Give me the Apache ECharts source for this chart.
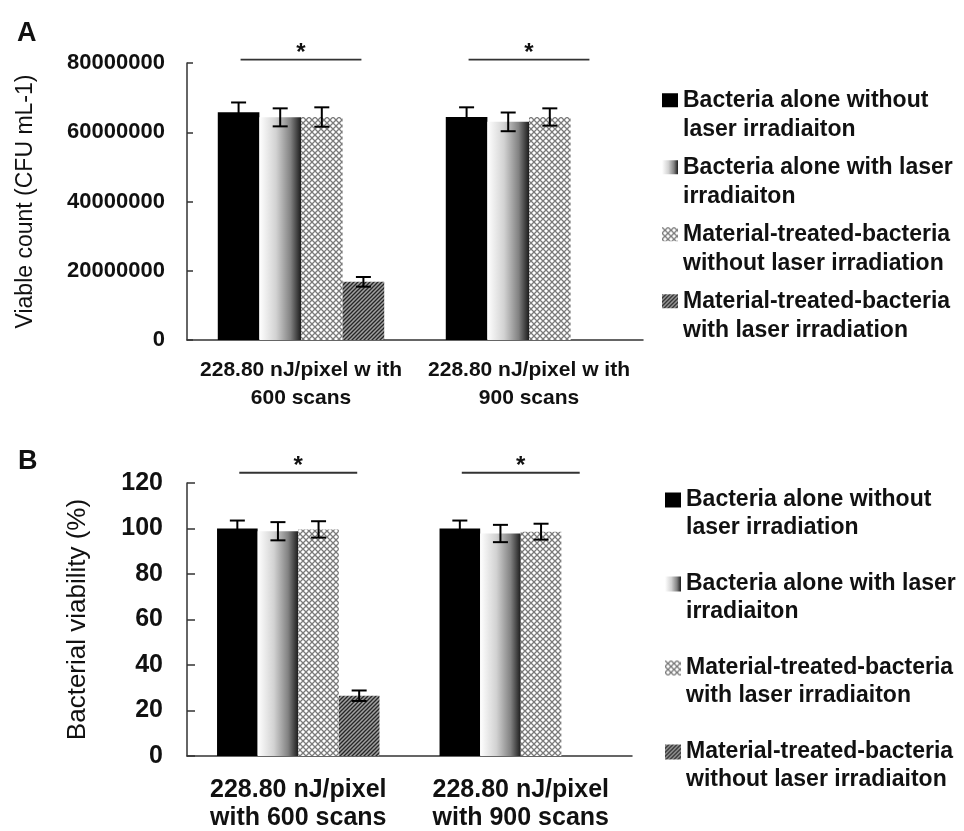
<!DOCTYPE html>
<html><head><meta charset="utf-8">
<script src="https://cdn.jsdelivr.net/npm/echarts@6/dist/echarts.min.js"></script>
<style>html,body{margin:0;padding:0;background:#fff}#c{width:964px;height:831px}</style>
</head><body><div id="c"></div>
<script>
// ---------- data ----------
const catsA = ['228.80 nJ/pixel w ith\n600 scans', '228.80 nJ/pixel w ith\n900 scans'];
const catsB = ['228.80 nJ/pixel\nwith 600 scans', '228.80 nJ/pixel\nwith 900 scans'];
const namesA = ['Bacteria alone without\nlaser irradiaiton', 'Bacteria alone with laser\nirradiaiton', 'Material-treated-bacteria\nwithout laser irradiation', 'Material-treated-bacteria\nwith laser irradiation'];
const namesB = ['Bacteria alone without\nlaser irradiation', 'Bacteria alone with laser\nirradiaiton', 'Material-treated-bacteria\nwith laser irradiaiton', 'Material-treated-bacteria\nwithout laser irradiaiton'];
const valsA = [[65800000, 64400000], [64300000, 63000000], [64400000, 64400000], [16800000, null]];
const errA  = [[2800000, 2800000], [2600000, 2700000], [2800000, 2500000], [1400000, null]];
const valsB = [[100, 100], [98.8, 97.8], [99.6, 98.6], [26.5, null]];
const errB  = [[3.5, 3.5], [4.0, 3.8], [3.6, 3.5], [2.3, null]];
const ticksA = [0, 20000000, 40000000, 60000000, 80000000];
const ticksB = [0, 20, 40, 60, 80, 100, 120];
const sigA = [81000000, 81000000];
const sigB = [124.5, 124.5];
const yNameA = 'Viable count (CFU mL-1)';
const yNameB = 'Bacterial viability (%)';

// ---------- fills ----------
function crossPattern() {
  const c = document.createElement('canvas'); c.width = 6; c.height = 6;
  const g = c.getContext('2d');
  g.fillStyle = '#ffffff'; g.fillRect(0, 0, 6, 6);
  g.strokeStyle = '#7a7a7a'; g.lineWidth = 1.3;
  g.beginPath(); g.moveTo(0, 0); g.lineTo(6, 6); g.moveTo(6, 0); g.lineTo(0, 6); g.stroke();
  return { image: c, repeat: 'repeat' };
}
function hatchPattern() {
  const c = document.createElement('canvas'); c.width = 4; c.height = 4;
  const g = c.getContext('2d');
  g.fillStyle = '#a0a0a0'; g.fillRect(0, 0, 4, 4);
  g.strokeStyle = '#262626'; g.lineWidth = 1.3;
  g.beginPath(); g.moveTo(-1, 5); g.lineTo(5, -1); g.moveTo(-1, 1); g.lineTo(1, -1); g.moveTo(3, 5); g.lineTo(5, 3); g.stroke();
  return { image: c, repeat: 'repeat' };
}
const gradFill = { type: 'linear', x: 0, y: 0, x2: 1, y2: 0, colorStops: [
  { offset: 0, color: '#ffffff' }, { offset: 0.4, color: '#d2d2d2' }, { offset: 0.75, color: '#828282' }, { offset: 1, color: '#1c1c1c' } ] };
const fills = [ '#000000', gradFill, crossPattern(), hatchPattern() ];

const FONT = '"Liberation Sans", Arial, sans-serif';
const TXT = '#111111';
const GAP = 0.27;

function barSeries(names, vals, axisIdx) {
  return names.map((n, i) => ({
    type: 'bar', name: n, xAxisIndex: axisIdx, yAxisIndex: axisIdx,
    data: vals[i], barGap: '0%', barCategoryGap: (GAP * 100) + '%',
    itemStyle: { color: fills[i] }, emphasis: { disabled: true }, z: 2
  }));
}
function errSeries(vals, errs, axisIdx, capW) {
  const data = [];
  vals.forEach((row, s) => row.forEach((v, c) => { if (v != null) data.push([c, s, v, errs[s][c]]); }));
  return {
    type: 'custom', xAxisIndex: axisIdx, yAxisIndex: axisIdx, data: data, z: 5,
    encode: { x: 0, y: 2 }, silent: true,
    renderItem: function (params, api) {
      const cat = api.value(0), s = api.value(1), v = api.value(2), e = api.value(3);
      const band = api.size([1, 0])[0];
      const bw = band * (1 - GAP) / 4;
      const cx = api.coord([cat, v])[0] + (s - 1.5) * bw;
      const yt = api.coord([cat, v + e])[1], yb = api.coord([cat, v - e])[1];
      const st = { stroke: '#000', lineWidth: 2 };
      return { type: 'group', children: [
        { type: 'line', shape: { x1: cx, y1: yt, x2: cx, y2: yb }, style: st },
        { type: 'line', shape: { x1: cx - capW / 2, y1: yt, x2: cx + capW / 2, y2: yt }, style: st },
        { type: 'line', shape: { x1: cx - capW / 2, y1: yb, x2: cx + capW / 2, y2: yb }, style: st }
      ] };
    }
  };
}
function sigSeries(vals, axisIdx) {
  return {
    type: 'custom', xAxisIndex: axisIdx, yAxisIndex: axisIdx, data: vals.map((v, i) => [i, v]), z: 5,
    encode: { x: 0, y: 1 }, silent: true, clip: false,
    renderItem: function (params, api) {
      const p = api.coord([api.value(0), api.value(1)]);
      const band = api.size([1, 0])[0];
      const hw = band * 0.265;
      return { type: 'group', children: [
        { type: 'line', shape: { x1: p[0] - hw, y1: p[1], x2: p[0] + hw, y2: p[1] }, style: { stroke: '#333', lineWidth: 1.8 } },
        { type: 'text', x: p[0], y: p[1] - 6, style: { text: '*', fill: TXT, font: 'bold 24px ' + FONT, align: 'center', verticalAlign: 'middle' } }
      ] };
    }
  };
}
function xAxis(cats, gridIdx, fs, margin, lh, tickLen) {
  return {
    type: 'category', gridIndex: gridIdx, data: cats,
    axisLine: { lineStyle: { color: '#333', width: 1.5 } },
    axisTick: { inside: true, length: tickLen, lineStyle: { color: '#333', width: 1.5 } },
    axisLabel: { color: TXT, fontFamily: FONT, fontWeight: 'bold', fontSize: fs, lineHeight: lh, margin: margin, interval: 0 }
  };
}
function yAxis(ticks, gridIdx, name, nameFs, nameGap, fs, margin, tickLen) {
  return {
    type: 'value', gridIndex: gridIdx, min: ticks[0], max: ticks[ticks.length - 1], interval: ticks[1] - ticks[0],
    name: name, nameLocation: 'middle', nameGap: nameGap,
    nameTextStyle: { color: TXT, fontFamily: FONT, fontSize: nameFs },
    axisLine: { show: true, lineStyle: { color: '#333', width: 1.5 } },
    axisTick: { show: true, inside: true, length: tickLen, lineStyle: { color: '#333', width: 1.5 } },
    splitLine: { show: false },
    axisLabel: { color: TXT, fontFamily: FONT, fontWeight: 'bold', fontSize: fs, margin: margin, formatter: v => String(v) }
  };
}
function legend(names, left, top, iw, ih, lh, gap, fs) {
  return {
    orient: 'vertical', left: left, top: top, padding: 0, itemGap: gap,
    itemWidth: iw, itemHeight: ih, icon: 'rect', selectedMode: false,
    data: names,
    formatter: n => '\n' + n,
    textStyle: { color: TXT, fontFamily: FONT, fontWeight: 'bold', fontSize: fs, lineHeight: lh }
  };
}

const chart = echarts.init(document.getElementById('c'), null, { renderer: 'canvas' });
chart.setOption({
  backgroundColor: '#ffffff',
  animation: false,
  title: [
    { text: 'A', left: 12, top: 15, textStyle: { fontFamily: FONT, fontWeight: 'bold', fontSize: 27, color: TXT } },
    { text: 'B', left: 13, top: 443, textStyle: { fontFamily: FONT, fontWeight: 'bold', fontSize: 27, color: TXT } }
  ],
  grid: [
    { left: 187, top: 63, width: 456, height: 277, outerBoundsMode: 'none', containLabel: false },
    { left: 187, top: 483, width: 445, height: 273, outerBoundsMode: 'none', containLabel: false }
  ],
  xAxis: [ xAxis(catsA, 0, 21, 16, 28, 6), xAxis(catsB, 1, 25, 20, 28, 8) ],
  yAxis: [ yAxis(ticksA, 0, yNameA, 23, 150, 22, 22, 6), yAxis(ticksB, 1, yNameB, 26, 96, 25, 24, 8) ],
  legend: [
    legend(namesA, 662, 56, 16, 14, 29.5, -21.5, 23),
    legend(namesB, 665, 458, 16, 15, 28, 0, 23)
  ],
  series: [].concat(
    barSeries(namesA, valsA, 0),
    barSeries(namesB, valsB, 1),
    [ errSeries(valsA, errA, 0, 15), errSeries(valsB, errB, 1, 15), sigSeries(sigA, 0), sigSeries(sigB, 1) ]
  )
});
</script></body></html>
